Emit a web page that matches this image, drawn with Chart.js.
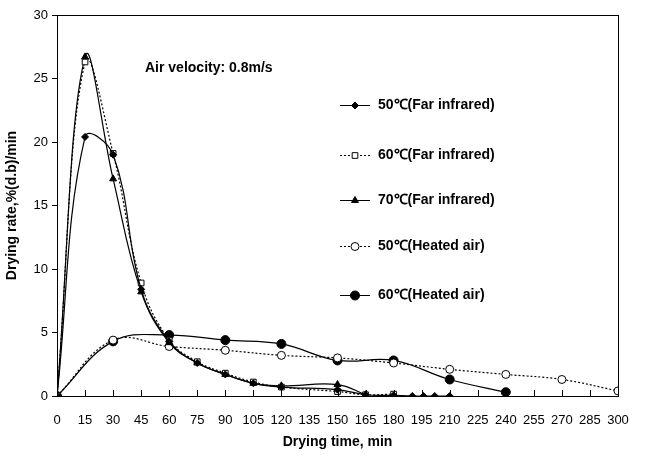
<!DOCTYPE html>
<html>
<head>
<meta charset="utf-8">
<script src="https://cdn.jsdelivr.net/npm/chart.js@4"></script>
<style>
  html, body { margin: 0; padding: 0; background: #fff; }
  #wrap { width: 649px; height: 455px; }
</style>
</head>
<body>
<div id="wrap"><canvas id="rateChart" width="649" height="455"></canvas></div>
<script>
// drying time (min) and drying rate, %(d.b)/min
const timeFir50 = [0, 15, 30, 45, 60, 75, 90, 105, 120, 150, 165, 180, 190, 196, 202, 210];
const rateFir50 = [0, 20.4, 19.0, 8.4, 4.3, 2.6, 1.7, 1.0, 0.7, 0.5, 0.1, 0.05, 0, 0, 0, 0];

const timeFir60 = [0, 15, 30, 45, 60, 75, 90, 105, 120, 150, 165, 180];
const rateFir60 = [0, 26.3, 19.1, 8.9, 4.4, 2.7, 1.8, 1.1, 0.7, 0.35, 0.1, 0.15];

const timeFir70 = [0, 15, 30, 45, 60, 75, 90, 105, 120, 150, 165];
const rateFir70 = [0, 26.7, 17.1, 8.2, 4.2, 2.6, 1.7, 1.0, 0.8, 0.9, 0.1];

const timeAir50 = [0, 30, 60, 90, 120, 150, 180, 210, 240, 270, 300];
const rateAir50 = [0, 4.4, 3.9, 3.6, 3.2, 3.0, 2.6, 2.1, 1.7, 1.3, 0.4];

const timeAir60 = [0, 30, 60, 90, 120, 150, 180, 210, 240];
const rateAir60 = [0, 4.3, 4.8, 4.4, 4.1, 2.8, 2.8, 1.3, 0.3];

const xTicks = [0, 15, 30, 45, 60, 75, 90, 105, 120, 135, 150, 165, 180, 195, 210, 225, 240, 255, 270, 285, 300];
const seriesNames = ['50\u2103(Far infrared)', '60\u2103(Far infrared)', '70\u2103(Far infrared)', '50\u2103(Heated air)', '60\u2103(Heated air)'];

const FONT = '"Liberation Sans", Arial, sans-serif';

function pts(xs, ys) {
  return xs.map((x, i) => ({ x: x, y: ys[i] }));
}

function series(name, xs, ys, style, fill, dash, size) {
  return {
    label: name,
    data: pts(xs, ys),
    borderColor: '#000',
    borderWidth: 1.2,
    borderDash: dash,
    pointStyle: style,
    pointBackgroundColor: fill,
    pointBorderColor: '#000',
    pointBorderWidth: 1,
    pointRadius: size,
    tension: 0.4,
    fill: false
  };
}

// frame, inward x ticks, note text and the legend down the right side
const decor = {
  id: 'decor',
  afterDraw(chart) {
    const ctx = chart.ctx;
    const a = chart.chartArea;
    const xs = chart.scales.x;
    ctx.save();
    ctx.strokeStyle = '#000';
    ctx.lineWidth = 1;
    ctx.strokeRect(a.left + 0.5, a.top + 0.5, a.right - a.left, a.bottom - a.top);
    xTicks.forEach(v => {
      const px = Math.round(xs.getPixelForValue(v)) + 0.5;
      ctx.beginPath();
      ctx.moveTo(px, a.bottom);
      ctx.lineTo(px, a.bottom - 6);
      ctx.stroke();
    });

    ctx.fillStyle = '#000';
    ctx.font = 'bold 14px ' + FONT;
    ctx.textBaseline = 'middle';
    ctx.fillText('Air velocity: 0.8m/s', 145, 68);

    const rows = [105, 155, 200, 246, 295];
    chart.data.datasets.forEach((ds, i) => {
      const y = rows[i] + 0.5;
      ctx.save();
      ctx.lineWidth = 1;
      ctx.setLineDash(ds.borderDash || []);
      ctx.beginPath();
      ctx.moveTo(340, y);
      ctx.lineTo(370, y);
      ctx.stroke();
      ctx.restore();
      ctx.save();
      ctx.fillStyle = ds.pointBackgroundColor;
      ctx.strokeStyle = '#000';
      ctx.lineWidth = 1;
      Chart.helpers.drawPoint(ctx, { pointStyle: ds.pointStyle, radius: ds.pointRadius, borderWidth: 1 }, 355, y);
      ctx.restore();
      ctx.fillStyle = '#000';
      ctx.font = 'bold 14px ' + FONT;
      ctx.fillText(ds.label, 378, y);
    });
    ctx.restore();
  }
};

const chart = new Chart(document.getElementById('rateChart'), {
  type: 'line',
  data: {
    datasets: [
      series(seriesNames[0], timeFir50, rateFir50, 'rectRot', '#000', [], 3.5),
      series(seriesNames[1], timeFir60, rateFir60, 'rect', '#fff', [2, 2], 4),
      series(seriesNames[2], timeFir70, rateFir70, 'triangle', '#000', [], 4),
      series(seriesNames[3], timeAir50, rateAir50, 'circle', '#fff', [2, 2], 4),
      series(seriesNames[4], timeAir60, rateAir60, 'circle', '#000', [], 4.5)
    ]
  },
  options: {
    responsive: false,
    animation: false,
    layout: { padding: { top: 15, right: 31, left: 0, bottom: 0 } },
    plugins: {
      legend: { display: false },
      tooltip: { enabled: false }
    },
    scales: {
      x: {
        type: 'linear',
        min: 0,
        max: 300,
        afterBuildTicks(scale) { scale.ticks = xTicks.map(v => ({ value: v })); },
        afterFit(scale) { scale.height = 59; },
        grid: { display: false, drawTicks: false },
        border: { color: '#000', width: 1 },
        ticks: { color: '#000', padding: 17, maxRotation: 0, autoSkip: false, font: { family: FONT, size: 13 } },
        title: { display: true, text: 'Drying time, min', color: '#000', padding: { top: 6 }, font: { family: FONT, size: 14, weight: 'bold' } }
      },
      y: {
        min: 0,
        max: 30,
        ticks: { stepSize: 5, color: '#000', padding: 4, font: { family: FONT, size: 13 } },
        afterFit(scale) { scale.width = 57; },
        grid: { drawOnChartArea: false, drawTicks: true, tickLength: 5, color: '#000' },
        border: { color: '#000', width: 1 },
        title: { display: true, text: 'Drying rate,%(d.b)/min', color: '#000', padding: { bottom: 0 }, font: { family: FONT, size: 14, weight: 'bold' } }
      }
    }
  },
  plugins: [decor]
});
</script>
</body>
</html>
